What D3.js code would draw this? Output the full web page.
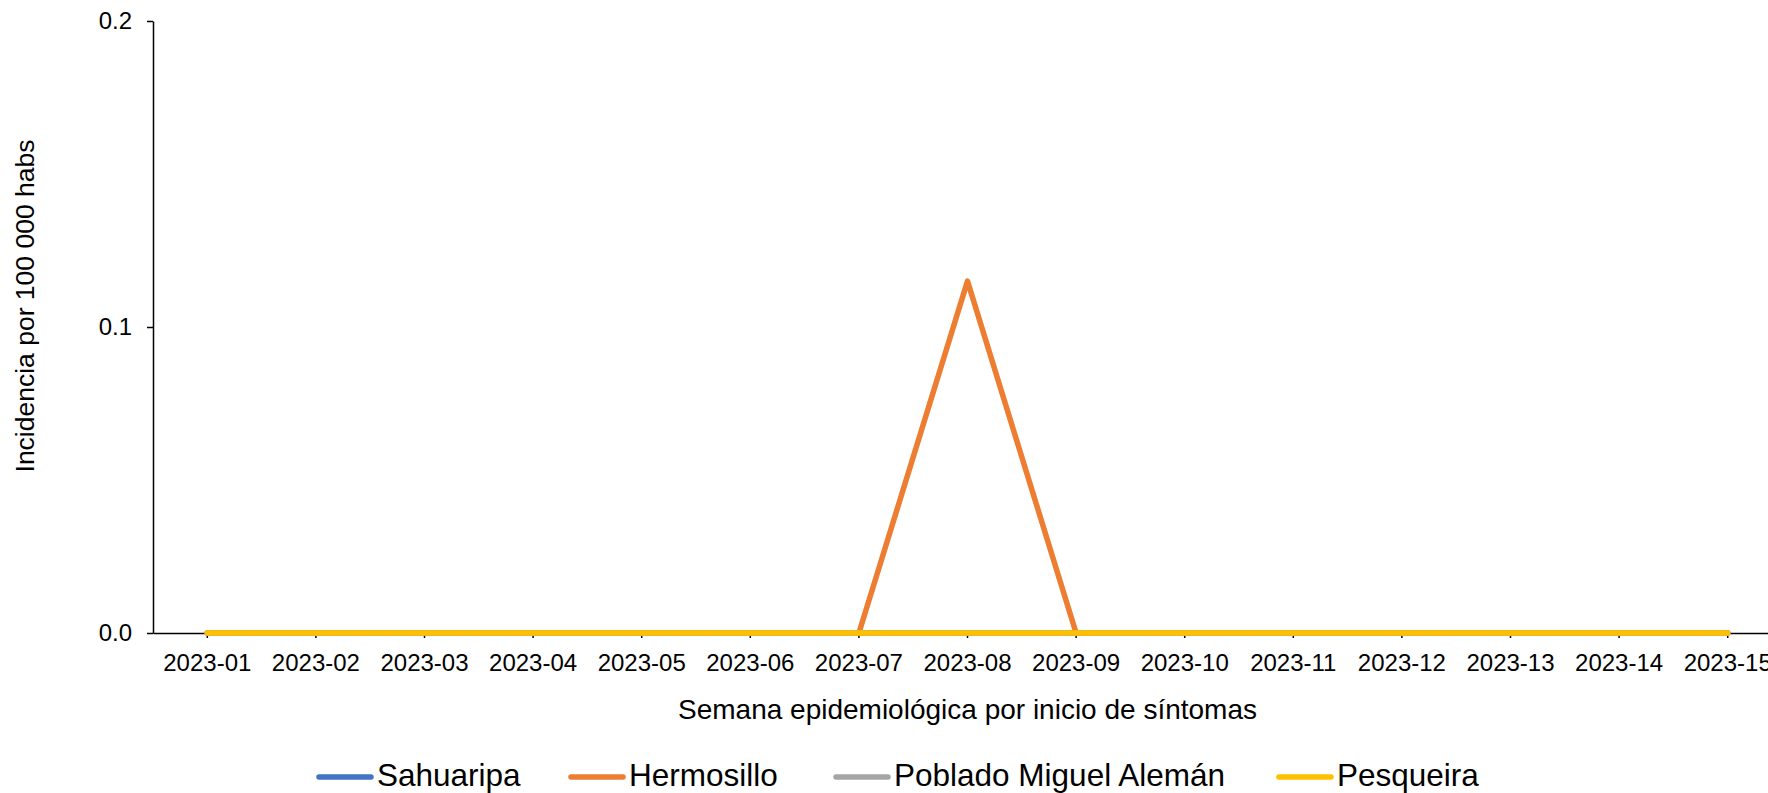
<!DOCTYPE html>
<html>
<head>
<meta charset="utf-8">
<script src="https://cdn.jsdelivr.net/npm/d3@7"></script>
<style>
  html, body { margin: 0; padding: 0; background: #fff; }
  svg { display: block; font-family: "Liberation Sans", Arial, sans-serif; }
</style>
</head>
<body>
<svg id="chart" width="1768" height="793"></svg>
<script>
// ---- Data ----
const categories = ["2023-01","2023-02","2023-03","2023-04","2023-05","2023-06","2023-07","2023-08","2023-09","2023-10","2023-11","2023-12","2023-13","2023-14","2023-15"];
const sahuaripa  = [0,0,0,0,0,0,0,0,0,0,0,0,0,0,0];
const hermosillo = [0,0,0,0,0,0,0,0.115,0,0,0,0,0,0,0];
const poblado    = [0,0,0,0,0,0,0,0,0,0,0,0,0,0,0];
const pesqueira  = [0,0,0,0,0,0,0,0,0,0,0,0,0,0,0];
const seriesNames = ["Sahuaripa","Hermosillo","Poblado Miguel Alemán","Pesqueira"];
const yTicks = [0, 0.1, 0.2];
const xTitle = "Semana epidemiológica por inicio de síntomas";
const yTitle = "Incidencia por 100 000 habs";

// ---- Styles / layout ----
const colors = ["#4472C4","#ED7D31","#A5A5A5","#FFC000"];
const series = [sahuaripa, hermosillo, poblado, pesqueira].map((v,i)=>({name:seriesNames[i], values:v, color:colors[i]}));

const mLeft = 153, mTop = 21, mBottom = 633, bandW = 108.6;
const svg = d3.select("#chart");

const x = d3.scaleBand().domain(categories).range([mLeft, mLeft + bandW*categories.length]).padding(0);
const y = d3.scaleLinear().domain([0, 0.2]).range([mBottom, mTop]);
const cx = c => x(c) + x.bandwidth()/2;

// Y axis
const yAxis = svg.append("g").attr("transform", `translate(${mLeft},0)`)
  .call(d3.axisLeft(y).tickValues(yTicks).tickFormat(d3.format(".1f")).tickSize(6).tickSizeOuter(0).tickPadding(15));
yAxis.select(".domain").attr("stroke","#000").attr("stroke-width",1.5);
yAxis.selectAll(".tick line").attr("stroke","#000").attr("stroke-width",1.5);
yAxis.selectAll(".tick text").attr("font-size",24).attr("fill","#000").attr("font-family","Liberation Sans, Arial, sans-serif");

// X axis
const xAxis = svg.append("g").attr("transform", `translate(0,${mBottom})`)
  .call(d3.axisBottom(x).tickSize(5).tickSizeOuter(0).tickPadding(16));
xAxis.select(".domain").attr("stroke","#000").attr("stroke-width",1.5);
xAxis.selectAll(".tick line").attr("stroke","#000").attr("stroke-width",1.5);
xAxis.selectAll(".tick text").attr("font-size",24).attr("fill","#000").attr("font-family","Liberation Sans, Arial, sans-serif");

// Lines
const line = d3.line().x((d,i)=>cx(categories[i])).y(d=>y(d));
svg.append("g").selectAll("path").data(series).join("path")
  .attr("d", d => line(d.values))
  .attr("fill","none")
  .attr("stroke", d => d.color)
  .attr("stroke-width", 5.5)
  .attr("stroke-linejoin","round")
  .attr("stroke-linecap","round");

// Axis titles
svg.append("text")
  .attr("x", (mLeft + mLeft + bandW*categories.length)/2)
  .attr("y", 719)
  .attr("text-anchor","middle")
  .attr("font-size",28)
  .attr("fill","#000")
  .text(xTitle);

svg.append("text")
  .attr("transform", `translate(34,306) rotate(-90)`)
  .attr("text-anchor","middle")
  .attr("font-size",26.5)
  .attr("fill","#000")
  .text(yTitle);

// Legend
const legendStarts = [317, 569, 834, 1277];
const lg = svg.append("g");
series.forEach((s,i)=>{
  const g = lg.append("g").attr("transform", `translate(${legendStarts[i]},777)`);
  g.append("line").attr("x1",2).attr("x2",54).attr("y1",0).attr("y2",0)
    .attr("stroke", s.color).attr("stroke-width",5.5).attr("stroke-linecap","round");
  g.append("text").attr("x",60).attr("y",9).attr("font-size",31.5).attr("fill","#000").text(s.name);
});
</script>
</body>
</html>
